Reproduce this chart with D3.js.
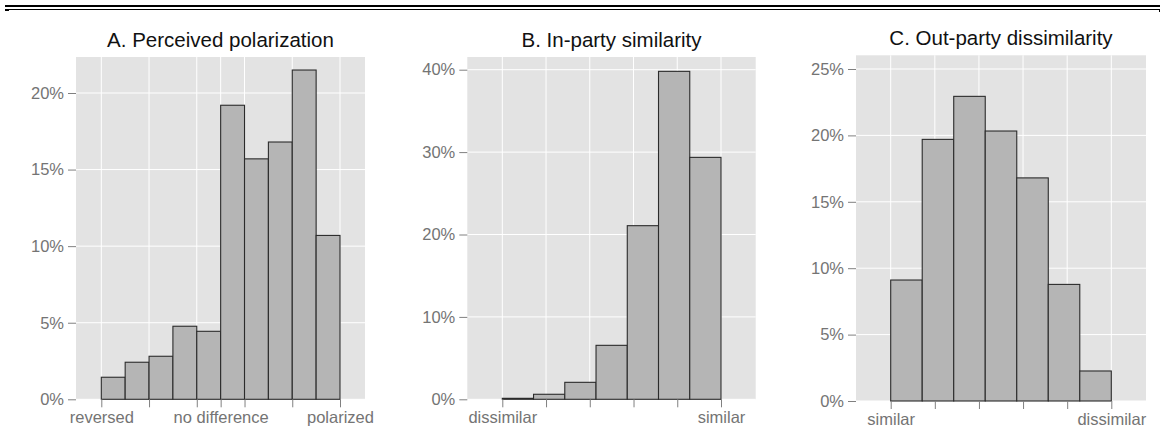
<!DOCTYPE html>
<html>
<head>
    <meta charset="utf-8">
    <title>Polarization histograms</title>
    <script src="https://d3js.org/d3.v7.min.js"></script>
    <style>
        body { margin: 0; background: #fff; }
        text { font-family: "Liberation Sans", Arial, sans-serif; }
    </style>
</head>
<body>
    <script>
        // panel titles
        var titles = ["A. Perceived polarization", "B. In-party similarity", "C. Out-party dissimilarity"];

        // share of respondents per bin (%)
        var polarizationPct = [1.44, 2.42, 2.81, 4.77, 4.44, 19.2, 15.7, 16.8, 21.5, 10.7];
        var inPartyPct = [0.12, 0.61, 2.06, 6.55, 21.07, 39.8, 29.36];
        var outPartyPct = [9.11, 19.7, 22.94, 20.33, 16.8, 8.78, 2.26];

        // x ticks (scale positions) and their labels
        var xTicksA = [-1, -0.6, -0.2, 0, 0.2, 0.6, 1];
        var xLabelsA = ["reversed", "", "", "no difference", "", "", "polarized"];
        var xTicksB = [0, 0.2, 0.4, 0.6, 0.8, 1];
        var xLabelsB = ["dissimilar", "", "", "", "", "similar"];
        var xTicksC = [0, 0.2, 0.4, 0.6, 0.8, 1];
        var xLabelsC = ["similar", "", "", "", "", "dissimilar"];

        // y ticks (%)
        var yTicksA = [0, 5, 10, 15, 20];
        var yTicksB = [0, 10, 20, 30, 40];
        var yTicksC = [0, 5, 10, 15, 20, 25];

        var svg = d3.select("body")
            .append("svg")
            .attr("width", 1161)
            .attr("height", 444);

        // rules across the top
        svg.append("rect").attr("x", 5).attr("y", 5).attr("width", 1155).attr("height", 2).attr("fill", "#000");
        svg.append("rect").attr("x", 5).attr("y", 9).attr("width", 1155).attr("height", 1).attr("fill", "#000");
        svg.append("rect").attr("x", 5).attr("y", 9).attr("width", 4).attr("height", 2).attr("fill", "#000");
        svg.append("rect").attr("x", 1159).attr("y", 9).attr("width", 1).attr("height", 3).attr("fill", "#000");

        var panels = [
            { title: titles[0], values: polarizationPct, xDomain: [-1, 1], xRange: [101.3, 340],
              xTicks: xTicksA, xLabels: xLabelsA, yTicks: yTicksA,
              left: 76, right: 365, top: 57, bottom: 399.3, yTop: 93 },
            { title: titles[1], values: inPartyPct, xDomain: [0, 1], xRange: [502.3, 721],
              xTicks: xTicksB, xLabels: xLabelsB, yTicks: yTicksB,
              left: 467.3, right: 755.7, top: 57, bottom: 399.3, yTop: 69.7 },
            { title: titles[2], values: outPartyPct, xDomain: [0, 1], xRange: [890.7, 1111.3],
              xTicks: xTicksC, xLabels: xLabelsC, yTicks: yTicksC,
              left: 856, right: 1146, top: 55.3, bottom: 401, yTop: 69 }
        ];

        panels.forEach(function(p) {
            var x = d3.scaleLinear().domain(p.xDomain).range(p.xRange);
            var y = d3.scaleLinear()
                .domain([0, d3.max(p.yTicks)])
                .range([p.bottom, p.yTop]);

            var g = svg.append("g");

            // panel background
            g.append("rect")
                .attr("x", p.left)
                .attr("y", p.top)
                .attr("width", p.right - p.left)
                .attr("height", p.bottom - p.top)
                .attr("fill", "#e3e3e3");

            // grid
            g.selectAll("line.hgrid")
                .data(p.yTicks)
                .enter()
                .append("line")
                .attr("x1", p.left).attr("x2", p.right)
                .attr("y1", function(d) { return y(d); })
                .attr("y2", function(d) { return y(d); })
                .attr("stroke", "#fff")
                .attr("stroke-width", 1);

            g.selectAll("line.vgrid")
                .data(p.xTicks)
                .enter()
                .append("line")
                .attr("y1", p.top).attr("y2", p.bottom)
                .attr("x1", function(d) { return x(d); })
                .attr("x2", function(d) { return x(d); })
                .attr("stroke", "#fff")
                .attr("stroke-width", 1);

            // bars
            var n = p.values.length;
            var step = (p.xDomain[1] - p.xDomain[0]) / n;
            g.selectAll("rect.bar")
                .data(p.values)
                .enter()
                .append("rect")
                .attr("x", function(d, i) { return x(p.xDomain[0] + i * step); })
                .attr("width", function(d, i) { return x(p.xDomain[0] + (i + 1) * step) - x(p.xDomain[0] + i * step); })
                .attr("y", function(d) { return y(d); })
                .attr("height", function(d) { return y(0) - y(d); })
                .attr("fill", "#b5b5b5")
                .attr("stroke", "#2b2b2b")
                .attr("stroke-width", 1.1);

            // y axis
            var yAxis = d3.axisLeft(y)
                .tickValues(p.yTicks)
                .tickSize(8)
                .tickPadding(4)
                .tickFormat(function(d) { return d + "%"; });
            var ya = g.append("g")
                .attr("transform", "translate(" + p.left + ",0)")
                .call(yAxis);
            ya.select(".domain").remove();

            // x axis
            var xAxis = d3.axisBottom(x)
                .tickValues(p.xTicks)
                .tickSize(8)
                .tickPadding(4)
                .tickFormat(function(d, i) { return p.xLabels[i]; });
            var xa = g.append("g")
                .attr("transform", "translate(0," + p.bottom + ")")
                .call(xAxis);
            xa.select(".domain").remove();

            [ya, xa].forEach(function(a) {
                a.selectAll("line").attr("stroke", "#808080");
                a.selectAll("text")
                    .attr("fill", "#747474")
                    .style("font-family", "'Liberation Sans', Arial, sans-serif")
                    .style("font-size", "16.5px");
            });

            // title
            g.append("text")
                .attr("x", (p.left + p.right) / 2)
                .attr("y", p.top - 10.5)
                .attr("text-anchor", "middle")
                .style("font-size", "20.5px")
                .attr("fill", "#111")
                .text(p.title);
        });
    </script>
</body>
</html>
